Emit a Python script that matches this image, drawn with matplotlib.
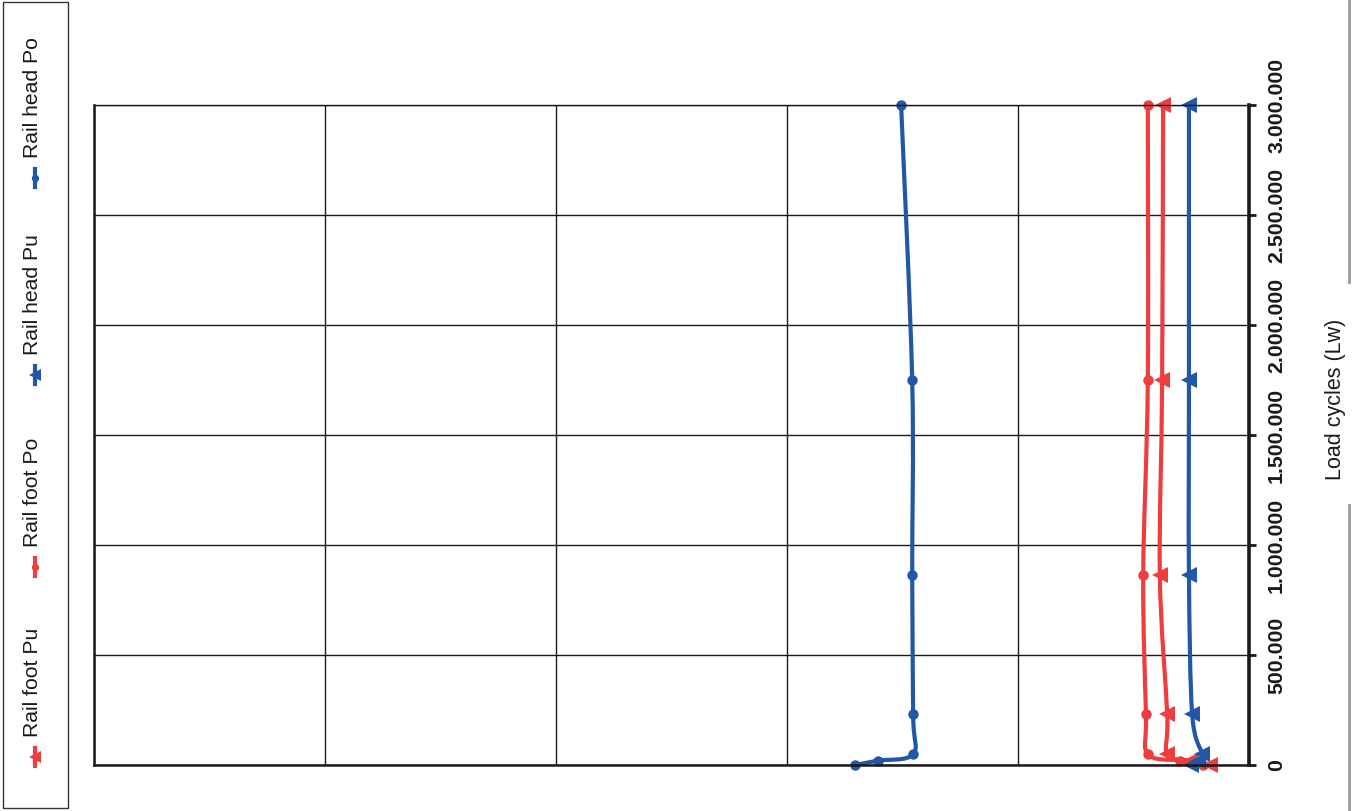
"""
Rail strain vs. load cycles, drawn in portrait orientation (cycles on the vertical axis)
"""
import numpy as np
import matplotlib.pyplot as plt
from matplotlib.path import Path
from matplotlib.patches import PathPatch, Rectangle
from matplotlib.lines import Line2D
from matplotlib.ticker import FuncFormatter, MultipleLocator

plt.rcParams['font.family'] = ['Liberation Sans Narrow', 'Liberation Sans', 'DejaVu Sans']

# load cycles at each measurement
cycles = [0, 20000, 50000, 230000, 865000, 1750000, 3000000]

# measured values per gauge position
foot_pu = [8.4, 12.8, 17.7, 17.7, 19.3, 18.8, 18.6]
foot_po = [10.0, 14.9, 21.9, 22.3, 22.9, 21.9, 21.9]
head_pu = [12.5, 11.0, 10.2, 12.3, 13.0, 13.0, 13.0]
head_po = [85.3, 80.3, 72.7, 72.7, 72.9, 72.9, 75.3]

series_names = ['Rail foot Pu', 'Rail foot Po', 'Rail head Pu', 'Rail head Po']
series_vals = [foot_pu, foot_po, head_pu, head_po]

RED = '#ee3d3d'
BLUE = '#2256a6'
colors = [RED, RED, BLUE, BLUE]
markers = ['<', 'o', '<', 'o']
msizes = [12, 7.5, 12, 7.5]


def smooth_path(xs, ys):
    # cardinal spline through the points, like a spreadsheet "smoothed line"
    pts = np.column_stack([xs, ys]).astype(float)
    verts = [pts[0]]
    codes = [Path.MOVETO]
    n = len(pts)
    for i in range(n - 1):
        p0 = pts[i - 1] if i > 0 else pts[i]
        p1 = pts[i]
        p2 = pts[i + 1]
        p3 = pts[i + 2] if i + 2 < n else pts[i + 1]
        c1 = p1 + (p2 - p0) / 6.0
        c2 = p2 - (p3 - p1) / 6.0
        verts += [c1, c2, p2]
        codes += [Path.CURVE4] * 3
    return Path(verts, codes)


W, H = 1356, 811
fig = plt.figure(figsize=(W / 100, H / 100), dpi=100)
ax = fig.add_axes([94 / W, 1 - 765 / H, (1249 - 94) / W, (765 - 105) / H])

for name, vals, c, m, ms in zip(series_names, series_vals, colors, markers, msizes):
    ax.add_patch(PathPatch(smooth_path(vals, cycles), facecolor='none',
                           edgecolor=c, linewidth=3, capstyle='round', joinstyle='round'))
    ax.plot(vals, cycles, linestyle='none', marker=m, markersize=ms, color=c,
            markeredgewidth=0, clip_on=False)

ax.set_xlim(250, 0)
ax.set_ylim(0, 3000000)
ax.xaxis.set_major_locator(MultipleLocator(50))
ax.yaxis.set_major_locator(MultipleLocator(500000))
ax.yaxis.set_major_formatter(FuncFormatter(lambda v, p: f'{int(v):,}'.replace(',', '.')))
ax.grid(True, color='#1a1a1a', linewidth=1)
ax.set_axisbelow(True)

ax.yaxis.tick_right()
ax.tick_params(axis='x', length=0, labelbottom=False)
ax.tick_params(axis='y', direction='out', length=5, width=2, pad=8,
               labelrotation=90, labelsize=15.3, colors='#1a1a1a')
plt.setp(ax.get_yticklabels(), va='center', fontweight='bold')

for side, lw in [('left', 1.8), ('bottom', 1.8), ('top', 1.0), ('right', 2.6)]:
    ax.spines[side].set_linewidth(lw)
    ax.spines[side].set_color('#1a1a1a')

fig.text(1335 / W, 1 - 399 / H, 'Load cycles (Lw)', rotation=90,
         ha='center', va='center', fontsize=15.5, color='#1a1a1a')

# outer frame edge on the right, broken around the axis title
for y0, y1 in [(0, 282), (505, 811)]:
    fig.add_artist(Line2D([1349 / W, 1349 / W], [1 - y0 / H, 1 - y1 / H],
                          color='#999999', linewidth=2))

# legend, laid out vertically along the left edge
fig.add_artist(Rectangle((3 / W, 1 - 808 / H), 65 / W, 806 / H, transform=fig.transFigure,
                         facecolor='none', edgecolor='#333333', linewidth=1))
legend_y = [757, 567, 375, 178]
for name, c, m, ms, yc in zip(series_names, colors, markers, msizes, legend_y):
    fig.add_artist(Line2D([35 / W, 35 / W], [1 - (yc + 9) / H, 1 - (yc - 9) / H],
                          color=c, linewidth=3))
    fig.add_artist(Line2D([35 / W], [1 - yc / H], marker=m, markersize=ms * 0.7,
                          color=c, markeredgewidth=0, linestyle='none'))
    fig.text(33 / W, 1 - (yc - 20) / H, name, rotation=90, ha='center', va='bottom',
             fontsize=15.2, color='#1a1a1a')

fig.savefig('out.png', dpi=100)
